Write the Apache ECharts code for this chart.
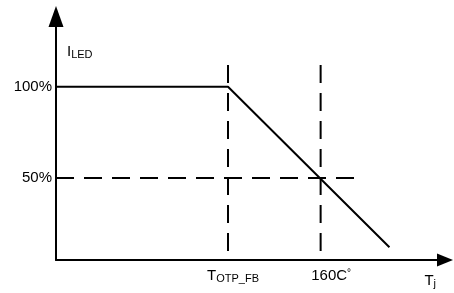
<!DOCTYPE html>
<html>
<head>
<meta charset="utf-8">
<script src="https://cdn.jsdelivr.net/npm/echarts@6/dist/echarts.min.js"></script>
<style>
  html, body { margin: 0; padding: 0; background: #fff; }
  #chart { width: 454px; height: 293px; }
</style>
</head>
<body>
<div id="chart"></div>
<script>
    // junction temperature (x) vs LED current in % (y)
    var derating = [[60, 100], [125, 100], [186, 12]]
    var tOtpFb = 125
    var t160 = 160
    var guideTop = 112
    var axisMinY = 5
    var half = [[60, 50], [173.5, 50]]
    var xTicks = [125, 160]
    var yTicks = [50, 100]

    var chart = echarts.init(document.getElementById('chart'))

    var dashStyle = { color: '#000', width: 2, type: [18, 10] }
    var font = 'Liberation Sans, Arial, sans-serif'

    chart.setOption({
        animation: false,
        grid: { left: 56, right: 9, top: 23, bottom: 33 },
        xAxis: {
            type: 'value',
            min: 60,
            max: 207,
            name: '{t|T}{s|j}',
            nameLocation: 'end',
            nameGap: -9,
            nameTextStyle: {
                align: 'right',
                verticalAlign: 'top',
                padding: [13, 0, 0, 0],
                rich: {
                    t: { fontFamily: font, fontSize: 15, lineHeight: 16, color: '#000' },
                    s: { fontFamily: font, fontSize: 11, lineHeight: 8, verticalAlign: 'bottom', color: '#000' }
                }
            },
            axisLine: {
                onZero: false,
                symbol: ['none', 'triangle'],
                symbolSize: [13, 16],
                lineStyle: { color: '#000', width: 2 }
            },
            axisTick: { show: false },
            splitLine: { show: false },
            axisLabel: {
                customValues: xTicks,
                margin: 8,
                formatter: function (v) {
                    if (v === tOtpFb) return '{p1|}{t|T}{s|OTP_FB}'
                    return '{p2|}{t|160C}{d|°}'
                },
                rich: {
                    p1: { width: 10 },
                    p2: { width: 21 },
                    t: { fontFamily: font, fontSize: 15, lineHeight: 16, color: '#000' },
                    s: { fontFamily: font, fontSize: 11, lineHeight: 8, verticalAlign: 'bottom', color: '#000' },
                    d: { fontFamily: font, fontSize: 10, lineHeight: 8, verticalAlign: 'top', color: '#000' }
                }
            }
        },
        yAxis: {
            type: 'value',
            min: axisMinY,
            max: 135,
            name: '{t|I}{s|LED}',
            nameLocation: 'end',
            nameGap: -21,
            nameTextStyle: {
                align: 'left',
                verticalAlign: 'top',
                padding: [0, 0, 0, 11],
                rich: {
                    t: { fontFamily: font, fontSize: 15, lineHeight: 16, color: '#000' },
                    s: { fontFamily: font, fontSize: 11, lineHeight: 8, verticalAlign: 'bottom', color: '#000' }
                }
            },
            axisLine: {
                onZero: false,
                symbol: ['none', 'triangle'],
                symbolSize: [15, 21],
                symbolOffset: [0, 6.5],
                lineStyle: { color: '#000', width: 2 }
            },
            axisTick: { show: false },
            splitLine: { show: false },
            axisLabel: {
                customValues: yTicks,
                margin: 4,
                color: '#000',
                fontFamily: font,
                fontSize: 15,
                formatter: '{value}%'
            }
        },
        series: [
            {
                type: 'line',
                data: [[tOtpFb, guideTop], [tOtpFb, axisMinY]],
                symbol: 'none',
                lineStyle: dashStyle
            },
            {
                type: 'line',
                data: [[t160, guideTop], [t160, axisMinY]],
                symbol: 'none',
                lineStyle: dashStyle
            },
            {
                type: 'line',
                data: half,
                symbol: 'none',
                lineStyle: dashStyle
            },
            {
                type: 'line',
                data: derating,
                symbol: 'none',
                lineStyle: { color: '#000', width: 2 }
            }
        ]
    })
</script>
</body>
</html>
